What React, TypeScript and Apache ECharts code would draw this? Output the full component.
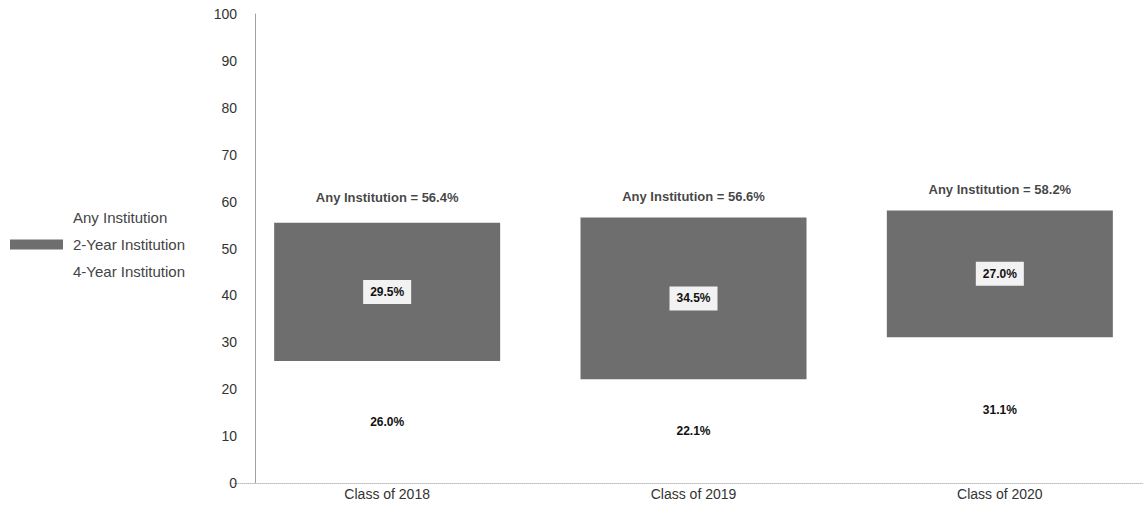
import React, { useEffect, useRef } from "react";
import * as echarts from "echarts";

const categories = ["Class of 2018", "Class of 2019", "Class of 2020"];
const fourYear = [26.0, 22.1, 31.1];
const twoYear = [29.5, 34.5, 27.0];
const anyInstitution = [56.4, 56.6, 58.2];
const yMin = 0;
const yMax = 100;
const yInterval = 10;

const FONT = "'Liberation Sans', Arial, sans-serif";

export default function App() {
  const ref = useRef<HTMLDivElement>(null);
  useEffect(() => {
    document.body.style.margin = "0";
    document.body.style.overflow = "hidden";
    document.documentElement.style.overflow = "hidden";
    const chart = echarts.init(ref.current!, undefined, { renderer: "svg" });
    chart.setOption({
      animation: false,
      backgroundColor: "#ffffff",
      textStyle: { fontFamily: FONT },
      legend: {
        orient: "vertical",
        left: 5,
        top: 205,
        itemWidth: 53,
        itemHeight: 10,
        itemGap: 12,
        textStyle: { fontFamily: FONT, fontSize: 15, color: "#444", padding: [0, 0, 0, 5] },
        data: [
          { name: "Any Institution", icon: "none" },
          { name: "2-Year Institution", icon: "rect" },
          { name: "4-Year Institution", icon: "rect" },
        ],
      },
      grid: { left: 234, right: 7, top: 14, bottom: 31 },
      xAxis: {
        type: "category",
        data: categories,
        axisLine: { show: true, lineStyle: { color: "#bbb", type: "dotted", width: 1 } },
        axisTick: { show: false },
        axisLabel: { color: "#333", fontSize: 14, fontFamily: FONT, margin: 4 },
      },
      yAxis: {
        type: "value",
        min: yMin,
        max: yMax,
        interval: yInterval,
        offset: -21,
        axisLine: { show: true, lineStyle: { color: "#a0a0a0", width: 1 } },
        axisTick: { show: false },
        splitLine: { show: false },
        axisLabel: { color: "#333", fontSize: 14, fontFamily: FONT, margin: 18 },
      },
      series: [
        {
          name: "4-Year Institution",
          type: "bar",
          stack: "total",
          data: fourYear,
          barWidth: 226,
          itemStyle: { color: "#ffffff" },
          label: {
            show: true,
            position: "inside",
            formatter: (p: any) => p.value.toFixed(1) + "%",
            color: "#111",
            fontSize: 12,
            fontWeight: "bold",
            fontFamily: FONT,
          },
        },
        {
          name: "2-Year Institution",
          type: "bar",
          stack: "total",
          data: twoYear,
          barWidth: 226,
          itemStyle: { color: "#6e6e6e" },
          label: {
            show: true,
            position: "inside",
            formatter: (p: any) => p.value.toFixed(1) + "%",
            color: "#111",
            fontSize: 12,
            fontWeight: "bold",
            fontFamily: FONT,
            backgroundColor: "#f2f2f2",
            padding: [6, 7],
          },
        },
        {
          name: "Any Institution",
          type: "scatter",
          data: anyInstitution,
          symbolSize: 1,
          itemStyle: { color: "rgba(0,0,0,0)" },
          z: 5,
          label: {
            show: true,
            position: "top",
            distance: 14,
            formatter: (p: any) => "Any Institution = " + p.value.toFixed(1) + "%",
            color: "#111",
            fontSize: 13,
            fontWeight: "bold",
            fontFamily: FONT,
          },
        },
      ],
    });
    return () => chart.dispose();
  }, []);
  return <div ref={ref} style={{ width: 1160, height: 514 }} />;
}
